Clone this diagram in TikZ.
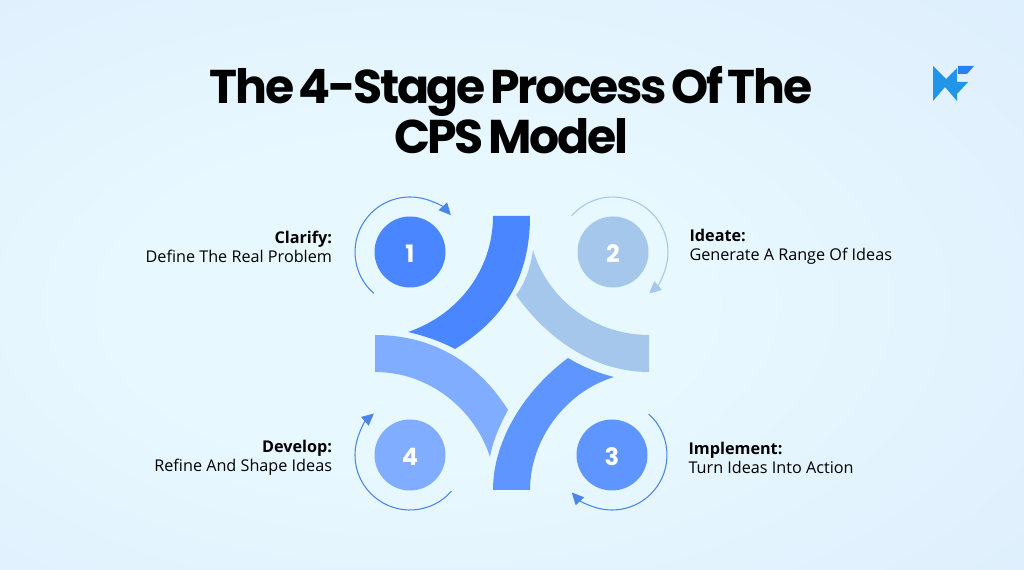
\documentclass[tikz,border=0pt]{standalone}
\usepackage{fontspec}
\setmainfont{Open Sans}
\newfontfamily\headfont[LetterSpace=-5.0,WordSpace=0.6]{Poppins}
\newfontfamily\numfont{Poppins}
\usetikzlibrary{positioning,arrows.meta}
\definecolor{bandone}{HTML}{4A86FF}
\definecolor{bandtwo}{HTML}{A5C7EC}
\definecolor{bandthree}{HTML}{5F95FF}
\definecolor{bandfour}{HTML}{80ADFF}
\definecolor{ringblue}{HTML}{4A86E8}
\definecolor{logoblue}{HTML}{2196E8}
\definecolor{logotop}{HTML}{2A80F0}
\definecolor{backmid}{HTML}{E7F8FF}
\definecolor{backedge}{HTML}{DBEBFC}
\pgfdeclareradialshading{backglow}{\pgfpoint{-6bp}{-2bp}}{color(0bp)=(backmid); color(14bp)=(backmid); color(48bp)=(backedge); color(100bp)=(backedge)}
\tikzset{
	stage/.style={circle, minimum size=53.25pt, inner sep=0pt, text=white, text height=16.5pt, text depth=0pt, font=\numfont\bfseries\fontsize{18}{18}\selectfont},
	ring/.style={line width=0.8pt, -{Triangle[length=9pt,width=8.5pt]}},
	tag/.style={inner sep=0pt, text=black, font=\fontsize{12.15}{14.2}\selectfont}
}
\begin{document}
\begin{tikzpicture}[x=0.75pt, y=0.75pt]
	\shade[shading=backglow] (0,0) rectangle (1024,570);
	\node[inner sep=0pt, align=center, font=\headfont\bfseries\fontsize{35.5}{37.5}\selectfont] (title) at (511,460) {The 4-Stage Process Of The\\CPS Model};
	% bands
	\fill[bandone] (493,354) -- (530,354) .. controls (530,295) and (506,252) .. (455,221) .. controls (440,229) and (425,234) .. (408,238) .. controls (458,255) and (493,300) .. (493,354) -- cycle;
	\fill[bandtwo] (533,320) .. controls (548,270) and (595,235) .. (649,235) -- (649,198) .. controls (595,198) and (548,230) .. (516,275) .. controls (526,288) and (531,305) .. (533,320) -- cycle;
	\fill[bandthree] (493,80) -- (530,80) .. controls (530,130) and (565,178) .. (614,193) .. controls (598,197) and (583,203) .. (568,212) .. controls (525,180) and (493,130) .. (493,80) -- cycle;
	\fill[bandfour] (375,235) -- (375,198) .. controls (430,198) and (475,160) .. (490,113) .. controls (493,130) and (500,145) .. (508,160) .. controls (480,205) and (435,235) .. (375,235) -- cycle;
	% circles
	\node[stage, fill=bandone](s1) at (410,318) {1};
	\node[stage, fill=bandtwo](s2) at (613,318) {2};
	\node[stage, fill=bandthree](s3) at (612,115) {3};
	\node[stage, fill=bandfour](s4) at (410,115) {4};
	% rings
	\draw[ring, ringblue] (s1) ++(228.7:55) arc[start angle=228.7, end angle=42, radius=55];
	\draw[ring, bandtwo] (s2) ++(138.7:55) arc[start angle=138.7, end angle=-49, radius=55];
	\draw[ring, ringblue] (s3) ++(48:55) arc[start angle=48, end angle=-137, radius=55];
	\draw[ring, ringblue] (s4) ++(-41:55) arc[start angle=-41, end angle=-229, radius=55];
	% labels
	\node[tag, align=right, left=31.5pt of s1, yshift=4pt](t1) {\textbf{Clarify:}\\Define The Real Problem};
	\node[tag, align=left, right=30.4pt of s2, yshift=4pt](t2) {\textbf{Ideate:}\\Generate A Range Of Ideas};
	\node[tag, align=left, right=30.4pt of s3, yshift=-2pt](t3) {\textbf{Implement:}\\Turn Ideas Into Action};
	\node[tag, align=right, left=31.5pt of s4, yshift=-2pt](t4) {\textbf{Develop:}\\Refine And Shape Ideas};
	% logo
	\fill[logoblue] (933,504) -- (946,491) -- (957,502) -- (957,488) -- (968,488) -- (957,476) -- (957,469) -- (945,483) -- (933,469) -- cycle;
	\fill[logotop] (958,504) -- (974,504) -- (967,496) -- (958,496) -- cycle;
\end{tikzpicture}
\end{document}
